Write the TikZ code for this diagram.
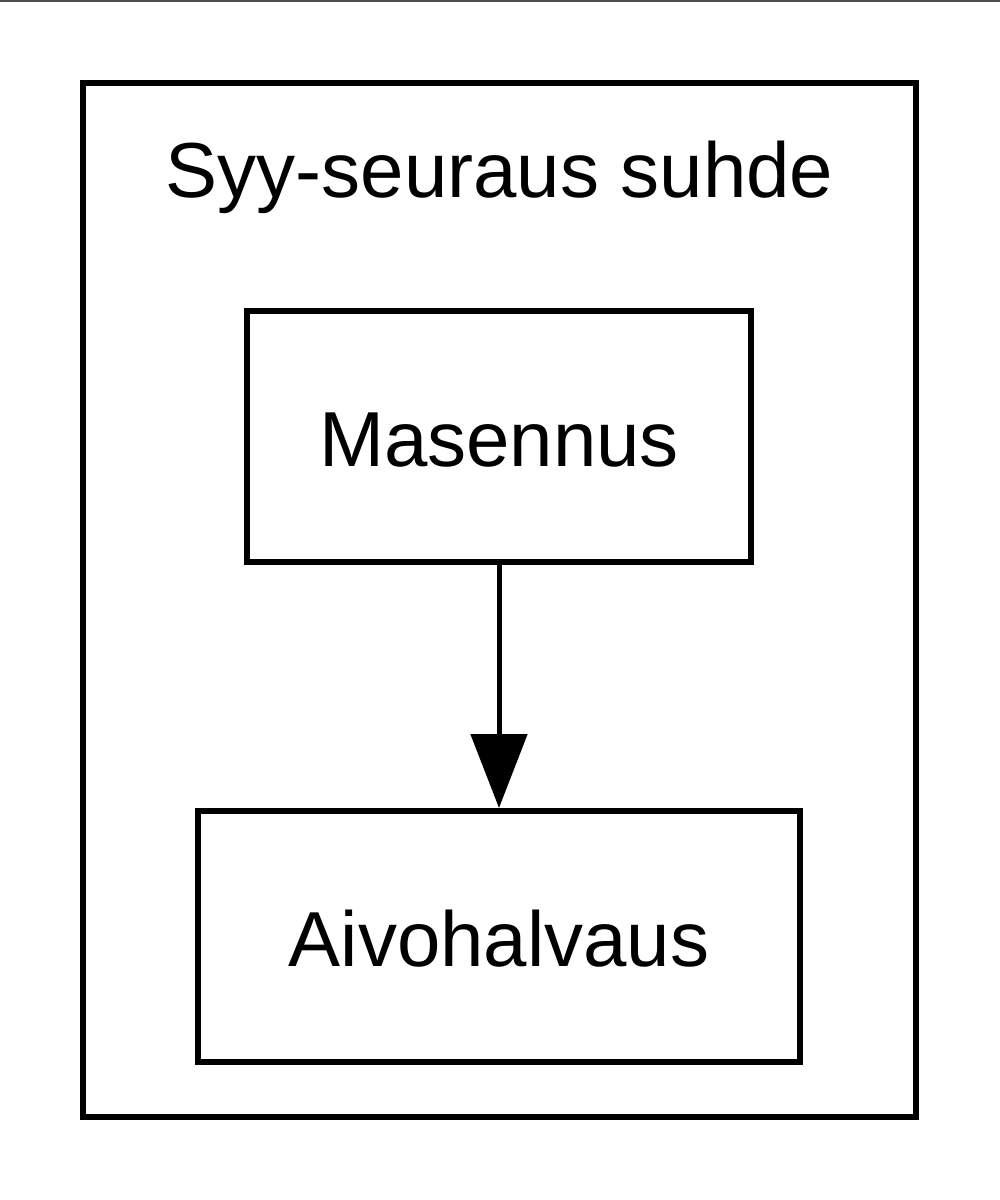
\documentclass[tikz,border=0pt]{standalone}
\usepackage{fontspec}
\setmainfont{Liberation Sans}
\usetikzlibrary{arrows.meta}
\begin{document}
\begin{tikzpicture}[x=0.5pt,y=-0.5pt,
  box/.style={draw=black, line width=3pt, rectangle},
  lbl/.style={font=\fontsize{39pt}{47pt}\selectfont, inner sep=0pt}]
\useasboundingbox (0,0) rectangle (1000,1200);
\draw[line width=1pt, black!70] (0,0.5) -- (1000,0.5);
\node[box, minimum width=416.5pt, minimum height=517pt, inner sep=0pt] (cluster) at (499.5,600) {};
\node[lbl, anchor=base] (title) at (499.5,197) {Syy-seuraus suhde};
\node[box, minimum width=252pt, minimum height=125.5pt, inner sep=0pt] (a) at (499,436.5) {};
\node[lbl, anchor=base] (at) at (499,466) {Masennus};
\node[box, minimum width=301pt, minimum height=125.5pt, inner sep=0pt] (b) at (499,936.5) {};
\node[lbl, anchor=base] (bt) at (499,966) {Aivohalvaus};
\draw[line width=2.5pt, -{Triangle[length=37pt, width=28pt]}] (a.south) -- (b.north);
\end{tikzpicture}
\end{document}
